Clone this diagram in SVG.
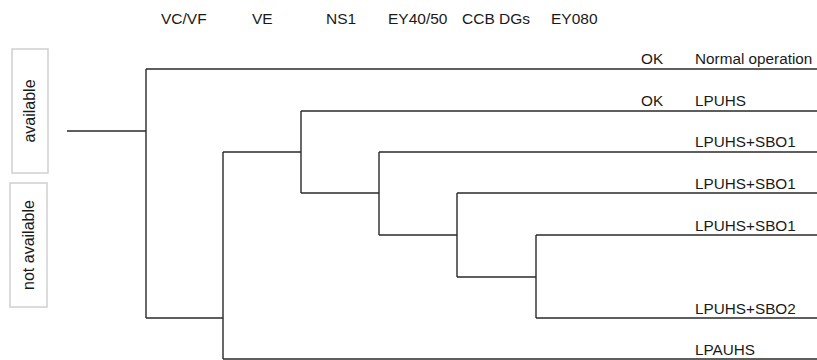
<svg xmlns="http://www.w3.org/2000/svg" width="817" height="360" viewBox="0 0 817 360">
<style>
text{font-family:"Liberation Sans",Arial,sans-serif;fill:#1a1a1a}
.h{font-size:15.5px}
.l{font-size:15.3px}
.b{font-size:16px}
.box{fill:#fff;stroke:#d0d0d0;stroke-width:1.5}
.c{fill:none;stroke:#2a2a2a;stroke-width:1.4}
</style>
<rect width="817" height="360" fill="#fff"/>
<g id="headers" class="h">
<text x="161" y="24">VC/VF</text>
<text x="252" y="24">VE</text>
<text x="326" y="24">NS1</text>
<text x="388" y="24">EY40/50</text>
<text x="462" y="24">CCB DGs</text>
<text x="551" y="24">EY080</text>
</g>
<g id="legend-available">
<rect class="box" x="12" y="49" width="36" height="124"/>
<text class="b" text-anchor="middle" transform="translate(35,111) rotate(-90)">available</text>
</g>
<g id="legend-not-available">
<rect class="box" x="10" y="183" width="37" height="124"/>
<text class="b" text-anchor="middle" transform="translate(34,245) rotate(-90)">not available</text>
</g>
<g id="connectors" class="c">
<path d="M67 131H146M146 69V318M146 69H817M146 318H223"/>
<path d="M223 152V359M223 152H301M223 359H817"/>
<path d="M301 111V193M301 111H817M301 193H379"/>
<path d="M379 152V235M379 152H817M379 235H457"/>
<path d="M457 193V277M457 193H817M457 277H536"/>
<path d="M536 235V318M536 235H817M536 318H817"/>
</g>
<g id="outcome-normal" class="l"><text x="641" y="64">OK</text><text x="695" y="64">Normal operation</text></g>
<g id="outcome-lpuhs" class="l"><text x="641" y="106">OK</text><text x="695" y="106">LPUHS</text></g>
<g id="outcome-sbo1-a" class="l"><text x="695" y="147">LPUHS+SBO1</text></g>
<g id="outcome-sbo1-b" class="l"><text x="695" y="189">LPUHS+SBO1</text></g>
<g id="outcome-sbo1-c" class="l"><text x="695" y="231">LPUHS+SBO1</text></g>
<g id="outcome-sbo2" class="l"><text x="695" y="314">LPUHS+SBO2</text></g>
<g id="outcome-lpauhs" class="l"><text x="695" y="355">LPAUHS</text></g>
</svg>
